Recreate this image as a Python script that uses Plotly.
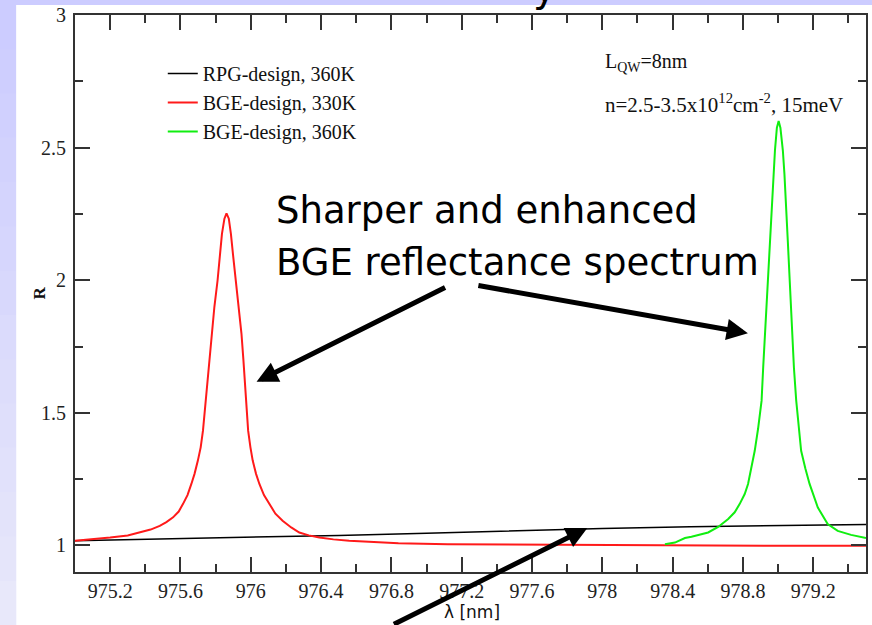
import plotly.graph_objects as go

# ---------------- data ----------------
rpg_x = [975.0, 975.5, 976.0, 976.5, 977.0, 977.5, 978.0, 978.5, 979.0, 979.5]
rpg_r = [1.018, 1.024, 1.031, 1.038, 1.046, 1.056, 1.064, 1.071, 1.076, 1.079]

bge330_x = [975.0, 975.1, 975.2, 975.3, 975.369, 975.43, 975.482, 975.52, 975.558,
            975.59, 975.614, 975.64, 975.662, 975.68, 975.699, 975.715, 975.728,
            975.74, 975.750, 975.763, 975.776, 975.793, 975.811, 975.824, 975.836,
            975.850, 975.862, 975.875, 975.887, 975.90, 975.915, 975.932, 975.947,
            975.958, 975.968, 975.977, 975.985, 975.998, 976.011, 976.03, 976.049,
            976.075, 976.106, 976.14, 976.181, 976.23, 976.276, 976.33, 976.390,
            976.47, 976.560, 976.7, 976.84, 977.12, 977.6, 978.0, 978.5, 979.0, 979.5]
bge330_r = [1.018, 1.023, 1.030, 1.038, 1.049, 1.060, 1.074, 1.088, 1.106,
            1.128, 1.156, 1.190, 1.232, 1.270, 1.320, 1.370, 1.433,
            1.520, 1.610, 1.700, 1.799, 1.900, 1.999, 2.090, 2.175,
            2.232, 2.252, 2.232, 2.175, 2.090, 1.999, 1.900, 1.799,
            1.700, 1.610, 1.520, 1.433, 1.370, 1.320, 1.270, 1.232,
            1.190, 1.156, 1.120, 1.093, 1.068, 1.049, 1.038, 1.030,
            1.023, 1.018, 1.012, 1.008, 1.005, 1.003, 1.001, 1.000, 0.999, 0.999]

bge360_x = [978.356, 978.413, 978.470, 978.507, 978.602, 978.659, 978.716, 978.753,
            978.781, 978.810, 978.829, 978.850, 978.867, 978.886, 978.906, 978.915,
            978.925, 978.941, 978.952, 978.964, 978.973, 978.982, 978.993, 979.003,
            979.013, 979.027, 979.036, 979.045, 979.055, 979.066, 979.080, 979.090,
            979.103, 979.117, 979.131, 979.155, 979.179, 979.226, 979.282, 979.339,
            979.415, 979.5]
bge360_r = [1.005, 1.011, 1.028, 1.033, 1.049, 1.070, 1.100, 1.125,
            1.156, 1.194, 1.232, 1.300, 1.357, 1.440, 1.546, 1.670,
            1.799, 1.999, 2.150, 2.300, 2.400, 2.489, 2.575, 2.600,
            2.575, 2.489, 2.400, 2.300, 2.150, 1.999, 1.799, 1.670,
            1.546, 1.440, 1.357, 1.290, 1.232, 1.143, 1.081, 1.055,
            1.040, 1.028]

series_names = ["RPG-design, 360K", "BGE-design, 330K", "BGE-design, 360K"]

x_range = [975.0, 979.5]
y_range = [0.9, 3.0]

# ---------------- figure ----------------
W, H = 872, 625
ML, MR, MT, MB = 75, 4, 15, 53
PW, PH = W - ML - MR, H - MT - MB


def px(xpix):
    return (xpix - ML) / PW


def py(ypix):
    return (H - MB - ypix) / PH


fig = go.Figure()
fig.add_trace(go.Scatter(x=rpg_x, y=rpg_r, mode="lines", name=series_names[0],
                         line=dict(color="#000000", width=1.5)))
fig.add_trace(go.Scatter(x=bge330_x, y=bge330_r, mode="lines", name=series_names[1],
                         line=dict(color="#ff1a1a", width=2)))
fig.add_trace(go.Scatter(x=bge360_x, y=bge360_r, mode="lines", name=series_names[2],
                         line=dict(color="#10ee10", width=2)))

serif = "Liberation Serif, Times New Roman, serif"
sans = "DejaVu Sans, Verdana, sans-serif"
axcol = "#333333"

common = dict(showgrid=False, zeroline=False, showline=True, linecolor=axcol,
              linewidth=2, mirror="allticks", ticks="inside", ticklen=15,
              tickwidth=1.5, tickcolor=axcol,
              tickfont=dict(family=serif, size=20, color="#222222"))

fig.update_xaxes(range=x_range, tick0=975.2, dtick=0.4,
                 minor=dict(dtick=0.2, ticks="inside", ticklen=8, tickwidth=1.5,
                            tickcolor=axcol),
                 **common)
fig.update_yaxes(range=y_range, tick0=1, dtick=0.5, ticklabelstandoff=3,
                 minor=dict(dtick=0.25, ticks="inside", ticklen=8, tickwidth=1.5,
                            tickcolor=axcol),
                 **common)

shapes = []
# lavender slide background strip on the left, with a soft vertical gradient
n_bands = 14
for i in range(n_bands):
    t = i / (n_bands - 1)
    r = int(204 + (232 - 204) * t)
    g = int(204 + (232 - 204) * t)
    b = int(255 + (250 - 255) * t)
    y0 = py(5 + (H - 5) * (i + 1) / n_bands) - 0.01
    y1 = py(5 + (H - 5) * i / n_bands) + (0.2 if i == 0 else 0)
    shapes.append(dict(type="rect", xref="paper", yref="paper", layer="below",
                       x0=-0.3, x1=px(16), y0=y0, y1=y1,
                       fillcolor=f"rgb({r},{g},{b})", line=dict(width=0)))
# white slide panel
shapes.append(dict(type="rect", xref="paper", yref="paper", layer="below",
                   x0=px(16), x1=1.2, y0=-0.3, y1=py(5),
                   fillcolor="white", line=dict(width=0)))

annotations = [
    # axis titles
    dict(text="<b>R</b>", x=px(27), y=py(293), xref="paper", yref="paper",
         showarrow=False, textangle=-90, font=dict(family=serif, size=17, color="#111")),
    dict(text="λ [nm]", x=px(473), y=py(611), xref="paper", yref="paper",
         xanchor="center", yanchor="middle", yshift=-1, showarrow=False,
         font=dict(family=sans, size=17, color="#111")),
    # parameter notes
    dict(text="L<sub>QW</sub>=8nm", x=px(604), y=py(62), xref="paper", yref="paper",
         xanchor="left", yanchor="middle", showarrow=False,
         font=dict(family=serif, size=20, color="#111")),
    dict(text="n=2.5-3.5x10<sup>12</sup>cm<sup>-2</sup>, 15meV", x=px(604), y=py(104),
         xref="paper", yref="paper", xanchor="left", yanchor="middle", showarrow=False,
         font=dict(family=serif, size=21, color="#111")),
    # slide callout text
    dict(text="Sharper and enhanced", x=px(275), y=py(211), xref="paper", yref="paper",
         xanchor="left", yanchor="middle", showarrow=False,
         font=dict(family=sans, size=37, color="#000")),
    dict(text="BGE reflectance spectrum", x=px(275), y=py(262), xref="paper", yref="paper",
         xanchor="left", yanchor="middle", showarrow=False,
         font=dict(family=sans, size=37, color="#000")),
    # cut-off slide title glyph at the top
    dict(text="y", x=px(546), y=py(12), xref="paper", yref="paper",
         xanchor="center", yanchor="bottom", showarrow=False,
         font=dict(family=sans, size=40, color="#000")),
]

# callout arrows (head at data point, tail offset in pixels)
arrow_style = dict(showarrow=True, text="", arrowhead=2, arrowsize=0.85, arrowwidth=5,
                   arrowcolor="#000", axref="pixel", ayref="pixel", standoff=0)
annotations.append(dict(x=976.033, y=1.617, ax=190, ay=-95, **arrow_style))
annotations.append(dict(x=978.828, y=1.80, ax=-271, ay=-48, **arrow_style))
annotations.append(dict(x=977.915, y=1.066, ax=-195, ay=105, **arrow_style))

fig.update_layout(
    width=W, height=H,
    margin=dict(l=ML, r=MR, t=MT, b=MB, pad=0),
    paper_bgcolor="#ccccff", plot_bgcolor="white",
    shapes=shapes, annotations=annotations,
    showlegend=True,
    legend=dict(x=px(163), y=py(54), xanchor="left", yanchor="top",
                bgcolor="rgba(0,0,0,0)", borderwidth=0,
                font=dict(family=serif, size=20, color="#111"),
                itemwidth=30, tracegroupgap=0),
)

fig.write_html("out.html", config={"displayModeBar": False},
               post_script="document.body.style.margin='0';"
                           "document.body.style.background='#ccccff';")
